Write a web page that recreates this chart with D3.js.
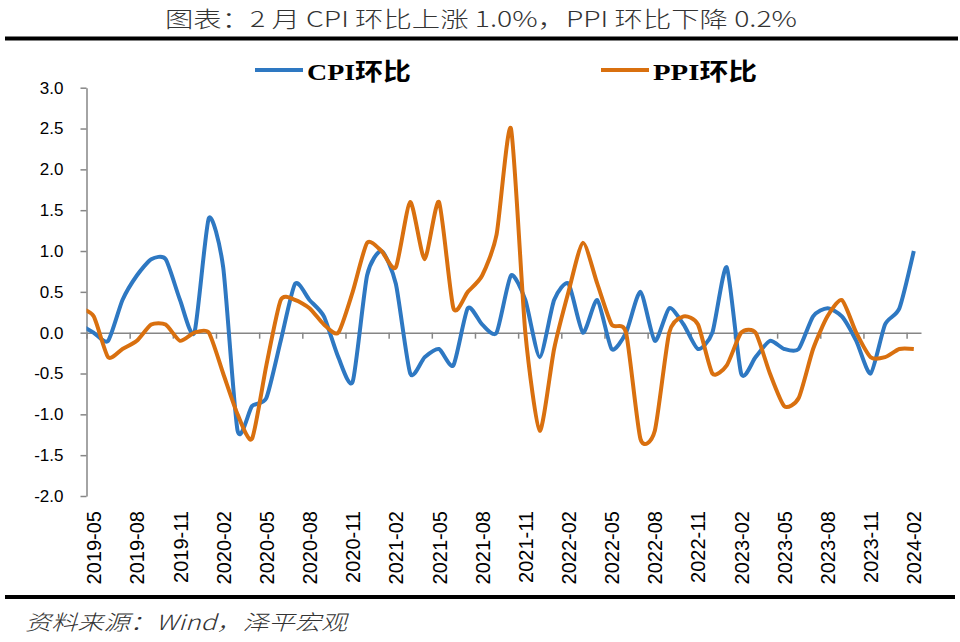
<!DOCTYPE html>
<html>
<head>
<meta charset="utf-8">
<script src="https://cdn.jsdelivr.net/npm/d3@7"></script>
<style>
  body { margin: 0; background: #fff; }
  svg { display: block; }
</style>
</head>
<body>
<svg width="960" height="642"></svg>
<script>
// months: the first one (2019-04) sits just left of the axis and is clipped
var months = [
  "2019-04","2019-05","2019-06","2019-07","2019-08","2019-09","2019-10","2019-11","2019-12",
  "2020-01","2020-02","2020-03","2020-04","2020-05","2020-06","2020-07","2020-08","2020-09","2020-10","2020-11","2020-12",
  "2021-01","2021-02","2021-03","2021-04","2021-05","2021-06","2021-07","2021-08","2021-09","2021-10","2021-11","2021-12",
  "2022-01","2022-02","2022-03","2022-04","2022-05","2022-06","2022-07","2022-08","2022-09","2022-10","2022-11","2022-12",
  "2023-01","2023-02","2023-03","2023-04","2023-05","2023-06","2023-07","2023-08","2023-09","2023-10","2023-11","2023-12",
  "2024-01","2024-02"
];

// CPI month on month, %
var cpi = [
  0.1, 0.0, -0.1, 0.4, 0.7, 0.9, 0.9, 0.4, 0.0,
  1.4, 0.8, -1.2, -0.9, -0.8, -0.1, 0.6, 0.4, 0.2, -0.3, -0.6, 0.7,
  1.0, 0.6, -0.5, -0.3, -0.2, -0.4, 0.3, 0.1, 0.0, 0.7, 0.4, -0.3,
  0.4, 0.6, 0.0, 0.4, -0.2, 0.0, 0.5, -0.1, 0.3, 0.1, -0.2, 0.0,
  0.8, -0.5, -0.3, -0.1, -0.2, -0.2, 0.2, 0.3, 0.2, -0.1, -0.5, 0.1,
  0.3, 1.0
];

// PPI month on month, %
var ppi = [
  0.3, 0.2, -0.3, -0.2, -0.1, 0.1, 0.1, -0.1, 0.0,
  0.0, -0.5, -1.0, -1.3, -0.4, 0.4, 0.4, 0.3, 0.1, 0.0, 0.5, 1.1,
  1.0, 0.8, 1.6, 0.9, 1.6, 0.3, 0.5, 0.7, 1.2, 2.5, 0.0, -1.2,
  -0.2, 0.5, 1.1, 0.6, 0.1, 0.0, -1.3, -1.2, 0.0, 0.2, 0.1, -0.5,
  -0.4, 0.0, 0.0, -0.5, -0.9, -0.8, -0.2, 0.2, 0.4, 0.0, -0.3, -0.3,
  -0.2, -0.2
];

var yTicks = [-2.0, -1.5, -1.0, -0.5, 0.0, 0.5, 1.0, 1.5, 2.0, 2.5, 3.0];
var seriesNames = ["CPI环比", "PPI环比"];
var colors = ["#2e78c2", "#d9700f"];

var svg = d3.select("svg");

// plot area edges (note: "top" is reserved on window, so plot* names)
var plotLeft = 86.5, plotRight = 921, plotTop = 87.7, plotBottom = 496;

// each month is a band; index 1 (2019-05) is the first band
var x = d3.scaleLinear().domain([0.5, months.length - 0.5]).range([plotLeft, plotRight]);
var y = d3.scaleLinear().domain([-2, 3]).range([plotBottom, plotTop]);

// title
svg.append("text")
    .attr("x", 481).attr("y", 27)
    .attr("text-anchor", "middle")
    .attr("textLength", 632).attr("lengthAdjust", "spacingAndGlyphs")
    .style("font-family", "'Noto Sans CJK SC', sans-serif")
    .style("font-weight", 300)
    .style("font-size", "22px")
    .style("fill", "#333")
    .text("图表：2 月 CPI 环比上涨 1.0%，PPI 环比下降 0.2%");

svg.append("line").attr("x1", 5).attr("x2", 958).attr("y1", 38.5).attr("y2", 38.5)
    .style("stroke", "#000").style("stroke-width", 4);
svg.append("line").attr("x1", 5).attr("x2", 955).attr("y1", 597).attr("y2", 597)
    .style("stroke", "#000").style("stroke-width", 4);

// source
svg.append("text")
    .attr("x", 25).attr("y", 630)
    .attr("textLength", 322).attr("lengthAdjust", "spacingAndGlyphs")
    .style("font-family", "'Noto Sans CJK SC', sans-serif")
    .style("font-style", "italic")
    .style("font-weight", 300)
    .style("font-size", "21px")
    .style("fill", "#333")
    .text("资料来源：Wind，泽平宏观");

// y axis (plain hyphen for negatives, like the original)
var yAxis = svg.append("g")
    .attr("transform", "translate(" + plotLeft + ",0)")
    .call(d3.axisLeft(y).tickValues(yTicks).tickSize(6).tickSizeOuter(0).tickPadding(17)
      .tickFormat(function(d){ return d.toFixed(1) }));
yAxis.selectAll("path, line").style("stroke", "#868686").style("stroke-width", 1.5);
yAxis.selectAll("text")
    .style("font-family", "'Liberation Sans', Arial, sans-serif")
    .style("font-size", "17px").style("fill", "#000");

// x axis line at zero, ticks every 3 months on the band edges
var edges = d3.range(0.5, months.length, 3);
var xAxis = svg.append("g")
    .attr("transform", "translate(0," + y(0) + ")")
    .call(d3.axisBottom(x).tickValues(edges).tickSize(6).tickSizeOuter(0).tickFormat(""));
xAxis.selectAll("path, line").style("stroke", "#868686").style("stroke-width", 1.5);

// month labels at the bottom
var labelIdx = d3.range(1, months.length, 3);
var xLabels = svg.append("g")
    .attr("transform", "translate(0," + plotBottom + ")")
    .call(d3.axisBottom(x).tickValues(labelIdx).tickSize(0).tickFormat(function(i){ return months[i] }));
xLabels.select(".domain").remove();
xLabels.selectAll("text")
    .attr("transform", "rotate(-90)")
    .attr("x", -15).attr("y", 0).attr("dy", "0.35em")
    .attr("text-anchor", "end")
    .style("font-family", "'Liberation Sans', Arial, sans-serif")
    .style("font-size", "20px").style("fill", "#000");

// clip lines to the plot area
svg.append("clipPath").attr("id", "plot")
  .append("rect").attr("x", plotLeft).attr("y", 60).attr("width", plotRight - plotLeft).attr("height", 460);

// a bit of tension keeps the overshoot small, close to Excel's smoothed lines
var line = d3.line()
    .x(function(d, i){ return x(i) })
    .y(function(d){ return y(d) })
    .curve(d3.curveCardinal.tension(0.35));

svg.append("g").attr("clip-path", "url(#plot)")
  .selectAll("path")
  .data([cpi, ppi])
  .enter()
  .append("path")
    .attr("d", line)
    .style("fill", "none")
    .style("stroke", function(d, i){ return colors[i] })
    .style("stroke-width", 4)
    .style("stroke-linejoin", "round");

// legend
var legendX = [255, 601];
var legend = svg.selectAll(".legend")
  .data(seriesNames)
  .enter()
  .append("g")
    .attr("class", "legend")
    .attr("transform", function(d, i){ return "translate(" + legendX[i] + ",70)" });
legend.append("line")
    .attr("x1", 0).attr("x2", 48)
    .style("stroke", function(d, i){ return colors[i] })
    .style("stroke-width", 4);
legend.append("text")
    .attr("x", 52).attr("y", 10)
    .attr("textLength", 104).attr("lengthAdjust", "spacingAndGlyphs")
    .style("font-family", "'Liberation Serif', 'Noto Sans CJK SC', serif")
    .style("font-weight", "bold")
    .style("font-size", "24px")
    .style("fill", "#000")
    .text(function(d){ return d });
</script>
</body>
</html>
